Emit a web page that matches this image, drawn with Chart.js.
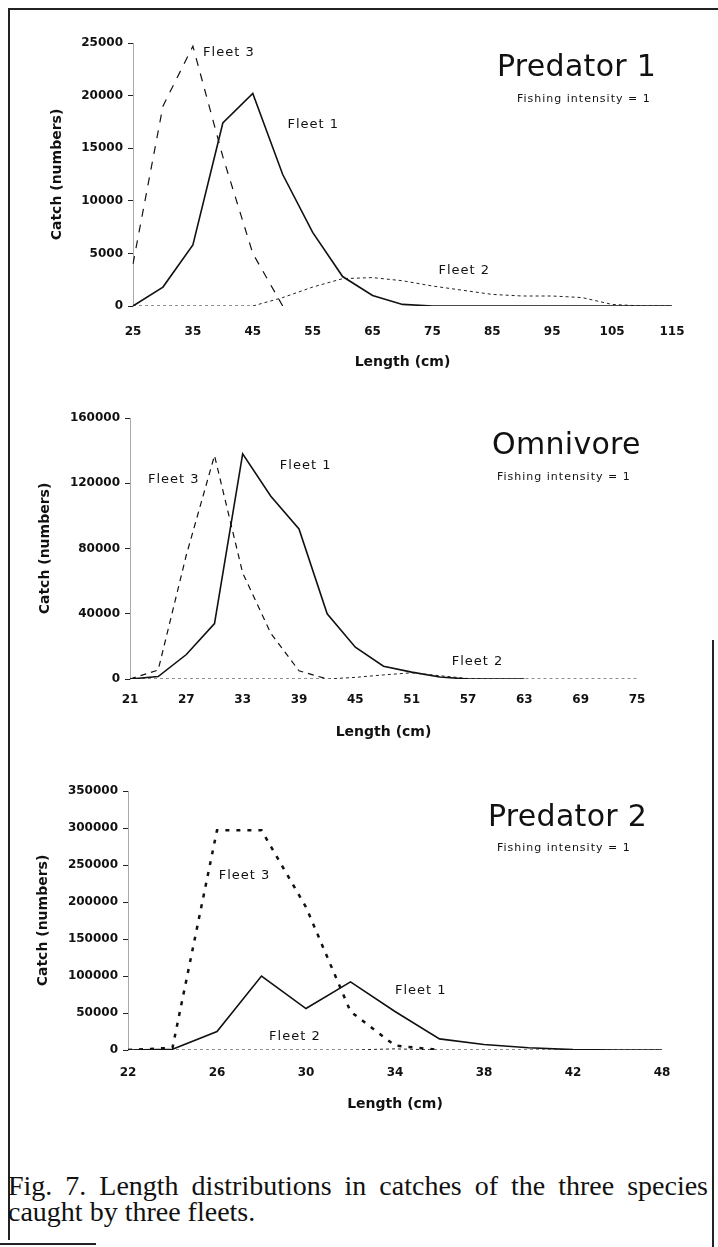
<!DOCTYPE html>
<html>
<head>
<meta charset="utf-8">
<script src="https://cdn.jsdelivr.net/npm/chart.js@4.4.1/dist/chart.umd.min.js"></script>
<style>
  body { margin: 0; background: #fff; }
  #page { position: relative; width: 718px; height: 1247px; overflow: hidden; color: #111; font-family: "DejaVu Sans", sans-serif; }
  canvas { position: absolute; left: 0; }
  .line { position: absolute; background: #222; }
  .title { position: absolute; font-size: 30px; line-height: 1; letter-spacing: 0.3px; white-space: nowrap; }
  .sub { position: absolute; font-size: 11px; line-height: 1; letter-spacing: 1px; white-space: nowrap; }
  .caption { position: absolute; left: 8px; width: 700px; font-family: "Liberation Serif", serif; font-size: 28px; line-height: 26px; white-space: nowrap; }
  .justify { text-align: justify; text-align-last: justify; }
</style>
</head>
<body>
<div id="page">
  <div class="line" style="left:8px;top:8px;width:710px;height:1.5px"></div>
  <div class="line" style="left:8px;top:8px;width:1.5px;height:1232px"></div>
  <div class="line" style="left:712px;top:640px;width:1.5px;height:607px"></div>
  <div class="line" style="left:0;top:1243px;width:96px;height:1.5px"></div>

  <canvas id="pred1" width="718" height="365" style="top:10px"></canvas>
  <canvas id="omni" width="718" height="370" style="top:380px"></canvas>
  <canvas id="pred2" width="718" height="360" style="top:760px"></canvas>

  <div class="title" style="left:497px;top:51px">Predator 1</div>
  <div class="sub" style="left:517px;top:93px">Fishing intensity = 1</div>
  <div class="title" style="left:492px;top:429px">Omnivore</div>
  <div class="sub" style="left:497px;top:471px">Fishing intensity = 1</div>
  <div class="title" style="left:488px;top:801px">Predator 2</div>
  <div class="sub" style="left:497px;top:842px">Fishing intensity = 1</div>

  <div class="caption justify" style="top:1173px">Fig. 7. Length distributions in catches of the three species</div>
  <div class="caption" style="top:1199px">caught by three fleets.</div>
</div>

<script>
// Predator 1, length classes every 5 cm
const pred1Lengths = ["25", "30", "35", "40", "45", "50", "55", "60", "65", "70", "75", "80", "85", "90", "95", "100", "105", "110", "115"];
const pred1Fleet1 = [0, 1800, 5800, 17400, 20200, 12500, 7000, 2800, 1000, 150, 0, 0, 0, 0, 0, 0, 0, 0, 0];
const pred1Fleet2 = [0, 0, 0, 0, 0, 800, 1800, 2600, 2700, 2400, 1900, 1500, 1100, 950, 950, 800, 150, 0, 0];
const pred1Fleet3 = [4000, 19000, 24700, 14200, 5000, 0, null, null, null, null, null, null, null, null, null, null, null, null, null];

// Omnivore, every 3 cm
const omniLengths = ["21", "24", "27", "30", "33", "36", "39", "42", "45", "48", "51", "54", "57", "60", "63", "66", "69", "72", "75"];
const omniFleet1 = [0, 1500, 15000, 34000, 138000, 112000, 92000, 40000, 19500, 7800, 4200, 1200, 0, 0, 0, null, null, null, null];
const omniFleet2 = [0, 0, 0, 0, 0, 0, 0, 0, 1000, 2500, 3800, 2000, 300, 0, 0, 0, 0, 0, 0];
const omniFleet3 = [0, 5500, 76000, 137000, 65000, 28000, 5000, 0, null, null, null, null, null, null, null, null, null, null, null];

// Predator 2, every 2 cm (last class printed as 48)
const pred2Lengths = ["22", "24", "26", "28", "30", "32", "34", "36", "38", "40", "42", "44", "48"];
const pred2Fleet1 = [0, 1000, 25000, 100000, 56000, 92000, 52000, 15000, 7500, 3000, 500, 0, 0];
const pred2Fleet2 = [0, 0, 0, 0, 0, 0, 1500, 0, 0, 0, 0, 0, 0];
const pred2Fleet3 = [0, 3000, 297000, 297000, 193000, 52000, 6000, 0, null, null, null, null, null];

const tickFont = { family: "DejaVu Sans", size: 12, weight: "bold" };
const titleFont = { family: "DejaVu Sans", size: 14, weight: "bold" };

const fleetLabels = {
  id: "fleetLabels",
  afterDatasetsDraw(chart, args, opts) {
    const { ctx, scales } = chart;
    ctx.save();
    ctx.font = '13px "DejaVu Sans"';
    ctx.letterSpacing = "1px";
    ctx.fillStyle = "#111";
    ctx.textBaseline = "middle";
    (opts.items || []).forEach((item) => {
      ctx.fillText(item.text, scales.x.getPixelForValue(item.at[0]), scales.y.getPixelForValue(item.at[1]));
    });
    ctx.restore();
  },
};

const drawLengthChart = (canvas, cfg) => {
  const fleet1 = {
    label: "Fleet 1", data: cfg.fleet1, borderColor: "#111", borderWidth: 1.6,
  };
  const fleet2 = {
    label: "Fleet 2", data: cfg.fleet2, borderColor: "#222", borderWidth: 1, borderDash: [3, 3],
  };
  const fleet3 = {
    label: "Fleet 3", data: cfg.fleet3, borderColor: "#111", borderWidth: cfg.fleet3Width, borderDash: cfg.fleet3Dash,
  };

  return new Chart(canvas, {
    type: "line",
    data: { labels: cfg.lengths, datasets: [fleet1, fleet3, fleet2] },
    plugins: [fleetLabels],
    options: {
      responsive: false,
      animation: false,
      elements: { point: { radius: 0 }, line: { tension: 0 } },
      layout: { padding: { top: cfg.padTop, right: cfg.padRight, left: 0, bottom: 0 } },
      plugins: {
        legend: { display: false },
        tooltip: { enabled: false },
        fleetLabels: { items: cfg.labels },
      },
      scales: {
        x: {
          type: "category",
          offset: false,
          grid: { display: false, drawTicks: false },
          border: { display: false },
          ticks: {
            autoSkip: false,
            maxRotation: 0,
            padding: cfg.xTickPad,
            color: "#111",
            font: tickFont,
            callback: (value, i) => (i % 2 === 0 ? cfg.lengths[i] : ""),
          },
          title: { display: true, text: "Length (cm)", color: "#111", font: titleFont, padding: { top: 0, bottom: cfg.xTitlePad } },
          afterFit: (scale) => { scale.height = cfg.xHeight; },
        },
        y: {
          min: 0,
          max: cfg.yMax,
          ticks: { stepSize: cfg.yStep, padding: 5, color: "#111", font: tickFont, callback: (value) => String(value) },
          grid: { drawOnChartArea: false, drawTicks: true, tickLength: 5, color: "#222" },
          border: { display: true, color: "#aaa", dash: [2, 5] },
          title: { display: true, text: "Catch (numbers)", color: "#111", font: titleFont, padding: { top: cfg.yTitlePad, bottom: 0 } },
          afterFit: (scale) => { scale.width = cfg.yWidth; },
        },
      },
    },
  });
};

drawLengthChart(document.getElementById("pred1"), {
  lengths: pred1Lengths, fleet1: pred1Fleet1, fleet2: pred1Fleet2, fleet3: pred1Fleet3,
  fleet3Width: 1.2, fleet3Dash: [8, 8],
  yMax: 25000, yStep: 5000,
  padTop: 33, padRight: 46, yWidth: 133, xHeight: 69, xTickPad: 19, xTitlePad: 4, yTitlePad: 49,
  labels: [
    { text: "Fleet 3", at: [2.34, 24100] },
    { text: "Fleet 1", at: [5.16, 17200] },
    { text: "Fleet 2", at: [10.2, 3400] },
  ],
});

drawLengthChart(document.getElementById("omni"), {
  lengths: omniLengths, fleet1: omniFleet1, fleet2: omniFleet2, fleet3: omniFleet3,
  fleet3Width: 1.2, fleet3Dash: [6, 5],
  yMax: 160000, yStep: 40000,
  padTop: 38, padRight: 81, yWidth: 130, xHeight: 71, xTickPad: 14, xTitlePad: 9, yTitlePad: 37,
  labels: [
    { text: "Fleet 3", at: [0.64, 122000] },
    { text: "Fleet 1", at: [5.32, 130600] },
    { text: "Fleet 2", at: [11.42, 10400] },
  ],
});

drawLengthChart(document.getElementById("pred2"), {
  lengths: pred2Lengths, fleet1: pred2Fleet1, fleet2: pred2Fleet2, fleet3: pred2Fleet3,
  fleet3Width: 2.5, fleet3Dash: [4, 7],
  yMax: 350000, yStep: 50000,
  padTop: 31, padRight: 56, yWidth: 128, xHeight: 70, xTickPad: 16, xTitlePad: 7, yTitlePad: 35,
  labels: [
    { text: "Fleet 3", at: [2.04, 235000] },
    { text: "Fleet 1", at: [6.0, 79700] },
    { text: "Fleet 2", at: [3.17, 17600] },
  ],
});
</script>
</body>
</html>
